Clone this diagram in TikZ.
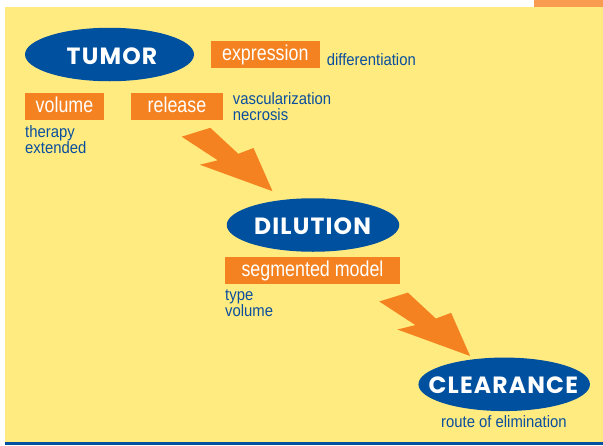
\documentclass[tikz,border=0pt]{standalone}
\usepackage{fontspec}
\setmainfont{Liberation Sans}
\newfontfamily\condfont{Liberation Sans}[FakeStretch=0.83]
\newfontfamily\lblfont{Liberation Sans}[FakeStretch=0.9]
\newfontfamily\ellfont{Poppins}[LetterSpace=5]
\usetikzlibrary{shapes.geometric}
\definecolor{bgyellow}{RGB}{255,235,128}
\definecolor{ellblue}{RGB}{0,80,160}
\definecolor{boxorange}{RGB}{245,130,32}
\definecolor{txtblue}{RGB}{10,78,158}
\definecolor{toporange}{RGB}{249,155,80}
\begin{document}
\begin{tikzpicture}[x=1pt,y=-1pt,
  ellshape/.style={ellipse, fill=ellblue, inner sep=0, minimum width=#1, minimum height=53.5},
  elltext/.style={anchor=base, text=white, inner sep=0, font=\ellfont\bfseries\fontsize{23.5}{24}\selectfont},
  obox/.style={rectangle, fill=boxorange, text=white, inner sep=0, minimum width=#1, minimum height=26.8,
    text height=15pt, text depth=3pt, font=\condfont\fontsize{21.5}{22}\selectfont},
  lbl/.style={anchor=base west, text=txtblue, inner sep=0, font=\lblfont\fontsize{16.5}{16}\selectfont},
  zig/.pic={\fill[boxorange] (0,0) -- (28.6,-8.9) -- (56.6,17.1) -- (71.8,11.3) -- (90.8,54.5) -- (18.1,28) -- (36.1,23.6) -- cycle;}
]
\useasboundingbox (0,0) rectangle (603,445);
\fill[white] (0,0) rectangle (603,445);
\fill[bgyellow] (5,6.7) rectangle (603,442.3);
\fill[ellblue] (5,442.3) rectangle (603,445);
\fill[toporange] (534,0) rectangle (603,6.7);

% ellipses
\node[ellshape=169] (tumor) at (109.5,54.5) {};
\node[elltext] (tumortxt) at (112,64) {TUMOR};
\node[ellshape=172.5] (dilution) at (313,225) {};
\node[elltext] (dilutiontxt) at (312.5,234) {DILUTION};
\node[ellshape=171.5] (clearance) at (504.2,384.3) {};
\node[elltext] (clearancetxt) at (503.3,393.3) {CLEARANCE};

% boxes
\node[obox=109.3] (expression) at (265.3,54.3) {expression};
\node[obox=79] (volumebox) at (64.5,106.7) {volume};
\node[obox=92.7] (release) at (177,106.7) {release};
\node[obox=175, minimum height=27.3] (segmented) at (312.5,270.3) {segmented model};

% labels
\node[lbl] (diff) at (326.7,65.7) {differentiation};
\node[lbl] (vasc) at (232.7,104.5) {vascularization};
\node[lbl] (necr) at (232.7,120.6) {necrosis};
\node[lbl] (therapy) at (25,137) {therapy};
\node[lbl] (extended) at (25,153.4) {extended};
\node[lbl] (type) at (225,300) {type};
\node[lbl] (volumelbl) at (225,316.5) {volume};
\node[lbl] (route) at (441,427.7) {route of elimination};

% arrows
\pic (arrowone) at (181.7,136.7) {zig};
\pic (arrowtwo) at (379.3,301.5) {zig};
\end{tikzpicture}
\end{document}
